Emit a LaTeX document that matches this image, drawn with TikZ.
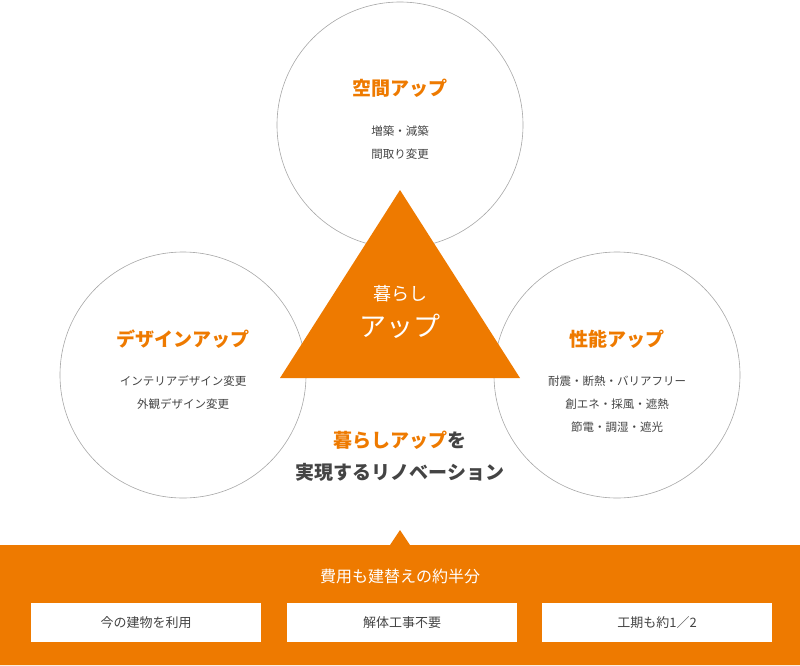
\documentclass[tikz,border=0pt]{standalone}
\usepackage{fontspec}
\setmainfont{Noto Sans CJK JP}
\usetikzlibrary{positioning}
\definecolor{kuraorange}{HTML}{EE7A00}
\definecolor{kuragray}{HTML}{444444}
\tikzset{circ/.style={circle,draw=gray!70,line width=0.6pt,minimum size=246pt,inner sep=0pt}}
\tikzset{title/.style={text=kuraorange,font=\fontsize{19}{22}\selectfont\bfseries}}
\tikzset{item/.style={text=kuragray,font=\fontsize{11.5}{23}\selectfont,align=center}}
\tikzset{whitebox/.style={rectangle,fill=white,minimum width=230pt,minimum height=39pt,
inner sep=0pt,text=kuragray,font=\fontsize{13}{15}\selectfont}}

\begin{document}
\begin{tikzpicture}[x=1pt,y=-1pt]
    \useasboundingbox (0,0) rectangle (800,665);

    % circles
    \node[circ] (cTop) at (400,125) {};
    \node[circ] (cLeft) at (183,375) {};
    \node[circ] (cRight) at (617,375) {};

    % triangle
    \fill[kuraorange] (400,190) -- (520,378) -- (280,378) -- cycle;
    \node[text=white,font=\fontsize{18}{20}\selectfont] (triA) at (400,294) {暮らし};
    \node[text=white,font=\fontsize{27}{30}\selectfont] (triB) at (400,326) {アップ};

    % circle texts
    \node[title] (tTop) at (400,88) {空間アップ};
    \node[item] (iTop) at (400,143) {増築・減築\\間取り変更};
    \node[title] (tLeft) at (183,339) {デザインアップ};
    \node[item] (iLeft) at (183,393) {インテリアデザイン変更\\外観デザイン変更};
    \node[title] (tRight) at (617,339) {性能アップ};
    \node[item] (iRight) at (617,404) {耐震・断熱・バリアフリー\\創エネ・採風・遮熱\\節電・調湿・遮光};

    % center message
    \node[font=\fontsize{19}{22}\selectfont\bfseries,text=kuragray] (msgA) at (400,440)
        {\textcolor{kuraorange}{暮らしアップ}を};
    \node[font=\fontsize{19}{22}\selectfont\bfseries,text=kuragray] (msgB) at (400,472)
        {実現するリノベーション};

    % bottom band
    \fill[kuraorange] (0,545) -- (390,545) -- (400,530) -- (410,545) -- (800,545)
        -- (800,665) -- (0,665) -- cycle;
    \node[text=white,font=\fontsize{16}{18}\selectfont] (band) at (400,576) {費用も建替えの約半分};
    \node[whitebox] (bA) at (146,622.5) {今の建物を利用};
    \node[whitebox] (bB) at (402,622.5) {解体工事不要};
    \node[whitebox] (bC) at (657,622.5) {工期も約1／2};
\end{tikzpicture}
\end{document}
